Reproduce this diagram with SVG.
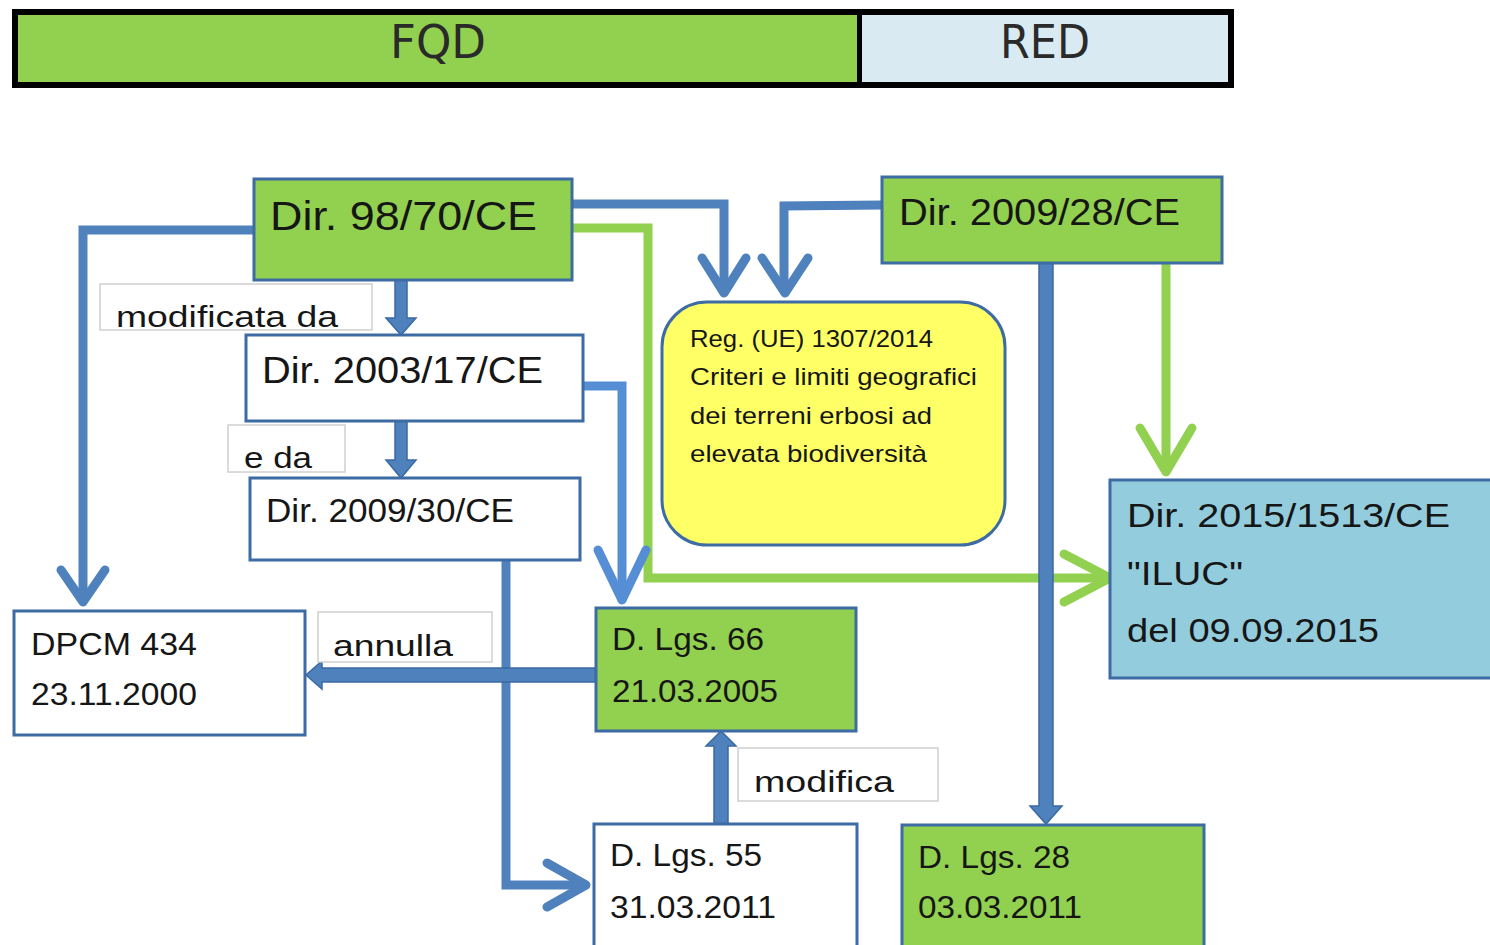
<svg xmlns="http://www.w3.org/2000/svg" width="1490" height="945" viewBox="0 0 1490 945">
<style>
.t{font-family:"Liberation Sans",Arial,sans-serif;fill:#161616}
.hd{font-family:"DejaVu Sans Condensed","DejaVu Sans",sans-serif;fill:#2a2a2a;font-size:46px}
.box{stroke:#3d6ba3;stroke-width:3}
.g{fill:#92d050}
.w{fill:#ffffff}
.lbl{fill:#ffffff;stroke:#d0d0d0;stroke-width:1.5}
.bl{fill:none;stroke:#4f81bd;stroke-width:9;stroke-linejoin:miter}
.bl2{fill:none;stroke:#558ed5;stroke-width:9}
.gr{fill:none;stroke:#92d050;stroke-width:9}
.hv{fill:none;stroke-width:9;stroke-linecap:round;stroke-linejoin:round}
.blk{fill:#4f81bd;stroke:#3a6aa3;stroke-width:1.5}
</style>
<rect width="1490" height="945" fill="#ffffff"/>
<g id="header">
<rect x="12" y="9" width="1222" height="79" fill="#000"/>
<rect x="18" y="15" width="839" height="67" fill="#92d050"/>
<rect x="862" y="15" width="366" height="67" fill="#daeaf2"/>
<text class="hd" x="390" y="58" textLength="96" lengthAdjust="spacingAndGlyphs">FQD</text>
<text class="hd" x="1000" y="58" textLength="90" lengthAdjust="spacingAndGlyphs">RED</text>
</g>
<g id="connectors">
<path class="bl" d="M254,230 H83 V598"/>
<path class="hv" stroke="#4f81bd" d="M61,570 L83,602 L105,570"/>
<path class="bl" d="M572,204 H724 V290"/>
<path class="hv" stroke="#4f81bd" d="M702,258 L724,293 L746,258"/>
<path class="bl" d="M882,205 L784,206 V290"/>
<path class="hv" stroke="#4f81bd" d="M762,258 L785,293 L808,258"/>
<path class="gr" d="M572,228 H648 V578 H1108"/>
<path class="hv" stroke="#92d050" d="M1064,554 L1110,578 L1064,602"/>
<path class="gr" d="M1166,263 V470"/>
<path class="hv" stroke="#92d050" d="M1140,428 L1166,472 L1192,428"/>
<path class="bl2" d="M583,386 H622 V598"/>
<path class="hv" stroke="#558ed5" d="M598,550 L622,600 L646,550"/>
<path class="bl" d="M506,560 V885 H585"/>
<path class="hv" stroke="#4f81bd" d="M547,863 L586,885 L547,907"/>
<polygon class="blk" points="395,280 407,280 407,318 416,318 401,335 386,318 395,318"/>
<polygon class="blk" points="395,421 407,421 407,460 416,460 401,478 386,460 395,460"/>
<polygon class="blk" points="596,668 322,668 322,661 306,675 322,689 322,682 596,682"/>
<polygon class="blk" points="714,824 714,746 706,746 721,731 736,746 728,746 728,824"/>
<polygon class="blk" points="1039,263 1053,263 1053,806 1062,806 1046,824 1030,806 1039,806"/>
</g>
<g id="n9870">
<rect class="box g" x="254" y="179" width="318" height="101"/>
<text class="t" x="270" y="230" font-size="40" textLength="267" lengthAdjust="spacingAndGlyphs">Dir. 98/70/CE</text>
</g>
<g id="lbl-modificata">
<rect class="lbl" x="100" y="284" width="272" height="46"/>
<text class="t" x="116" y="327" font-size="30" textLength="222" lengthAdjust="spacingAndGlyphs">modificata da</text>
</g>
<g id="n200317">
<rect class="box w" x="246" y="335" width="337" height="86"/>
<text class="t" x="262" y="383" font-size="36" textLength="281" lengthAdjust="spacingAndGlyphs">Dir. 2003/17/CE</text>
</g>
<g id="lbl-eda">
<rect class="lbl" x="228" y="425" width="117" height="47"/>
<text class="t" x="244" y="468" font-size="30" textLength="68" lengthAdjust="spacingAndGlyphs">e da</text>
</g>
<g id="n200930">
<rect class="box w" x="250" y="478" width="330" height="82"/>
<text class="t" x="266" y="522" font-size="33" textLength="248" lengthAdjust="spacingAndGlyphs">Dir. 2009/30/CE</text>
</g>
<g id="n200928">
<rect class="box g" x="882" y="177" width="340" height="86"/>
<text class="t" x="899" y="225" font-size="36" textLength="281" lengthAdjust="spacingAndGlyphs">Dir. 2009/28/CE</text>
</g>
<g id="nreg">
<rect x="662" y="302" width="343" height="243" rx="45" ry="45" fill="#ffff66" stroke="#3d6ba3" stroke-width="3"/>
<text class="t" font-size="24">
<tspan x="690" y="347" textLength="243" lengthAdjust="spacingAndGlyphs">Reg. (UE) 1307/2014</tspan>
<tspan x="690" y="385" textLength="287" lengthAdjust="spacingAndGlyphs">Criteri e limiti geografici</tspan>
<tspan x="690" y="424" textLength="242" lengthAdjust="spacingAndGlyphs">dei terreni erbosi ad</tspan>
<tspan x="690" y="462" textLength="237" lengthAdjust="spacingAndGlyphs">elevata biodiversità</tspan>
</text>
</g>
<g id="niluc">
<rect x="1110" y="480" width="390" height="198" fill="#93cddd" stroke="#3d6ba3" stroke-width="3"/>
<text class="t" font-size="34">
<tspan x="1127" y="527" textLength="323" lengthAdjust="spacingAndGlyphs">Dir. 2015/1513/CE</tspan>
<tspan x="1127" y="585" textLength="116" lengthAdjust="spacingAndGlyphs">"ILUC"</tspan>
<tspan x="1127" y="642" textLength="252" lengthAdjust="spacingAndGlyphs">del 09.09.2015</tspan>
</text>
</g>
<g id="ndpcm">
<rect class="box w" x="14" y="611" width="291" height="124"/>
<text class="t" font-size="32">
<tspan x="31" y="655" textLength="166" lengthAdjust="spacingAndGlyphs">DPCM 434</tspan>
<tspan x="31" y="705" textLength="166" lengthAdjust="spacingAndGlyphs">23.11.2000</tspan>
</text>
</g>
<g id="lbl-annulla">
<rect class="lbl" x="318" y="612" width="174" height="50"/>
<text class="t" x="333" y="656" font-size="30" textLength="120" lengthAdjust="spacingAndGlyphs">annulla</text>
</g>
<g id="n66">
<rect class="box g" x="596" y="608" width="260" height="123"/>
<text class="t" font-size="32">
<tspan x="612" y="650" textLength="152" lengthAdjust="spacingAndGlyphs">D. Lgs. 66</tspan>
<tspan x="612" y="702" textLength="166" lengthAdjust="spacingAndGlyphs">21.03.2005</tspan>
</text>
</g>
<g id="lbl-modifica">
<rect class="lbl" x="738" y="748" width="200" height="53"/>
<text class="t" x="754" y="792" font-size="30" textLength="140" lengthAdjust="spacingAndGlyphs">modifica</text>
</g>
<g id="n55">
<rect class="box w" x="594" y="824" width="263" height="130"/>
<text class="t" font-size="32">
<tspan x="610" y="866" textLength="152" lengthAdjust="spacingAndGlyphs">D. Lgs. 55</tspan>
<tspan x="610" y="918" textLength="166" lengthAdjust="spacingAndGlyphs">31.03.2011</tspan>
</text>
</g>
<g id="n28">
<rect class="box g" x="902" y="825" width="302" height="130"/>
<text class="t" font-size="32">
<tspan x="918" y="868" textLength="152" lengthAdjust="spacingAndGlyphs">D. Lgs. 28</tspan>
<tspan x="918" y="918" textLength="164" lengthAdjust="spacingAndGlyphs">03.03.2011</tspan>
</text>
</g>
</svg>
